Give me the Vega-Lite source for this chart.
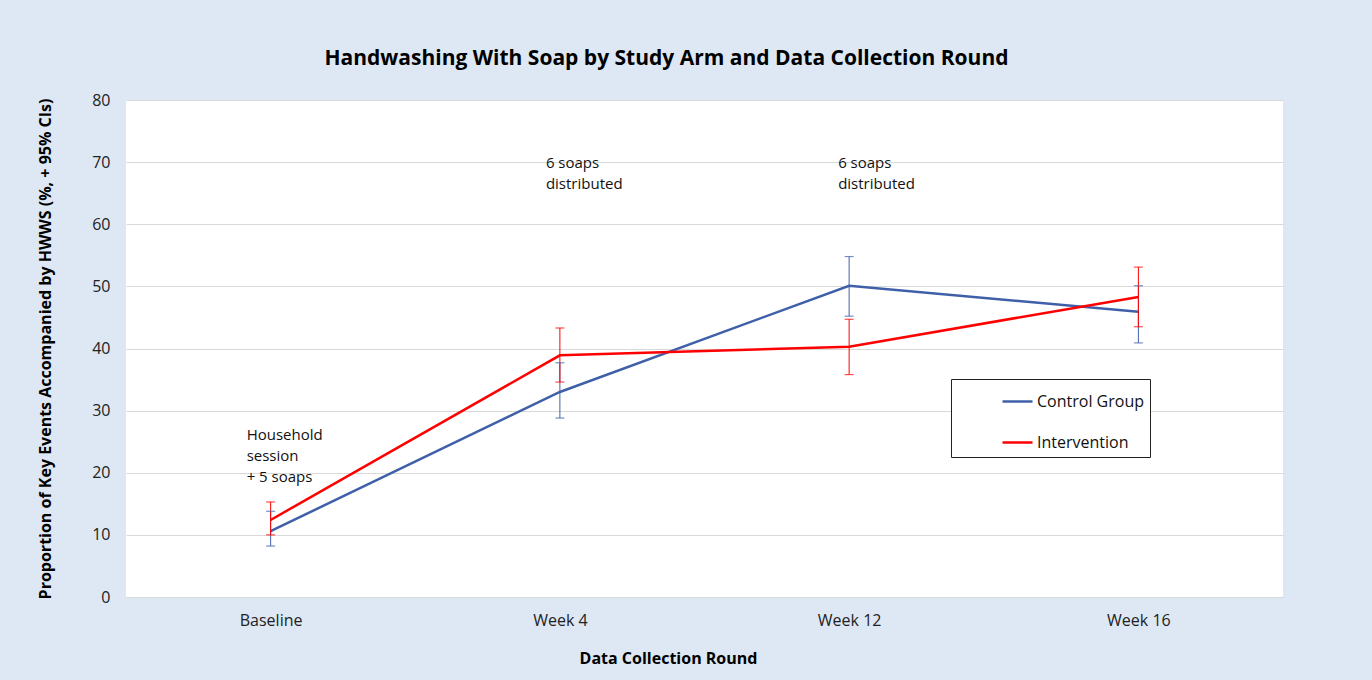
{
  "$schema": "https://vega.github.io/schema/vega-lite/v6.json",
  "width": 1157,
  "height": 497,
  "autosize": "none",
  "padding": {"left": 126, "top": 100, "right": 89, "bottom": 83},
  "background": "#dde8f4",
  "config": {
    "view": {"fill": "white", "stroke": null},
    "font": "Open Sans",
    "axis": {"labelFont": "Open Sans", "titleFont": "Open Sans", "labelColor": "#222222", "titleColor": "#000000"}
  },
  "title": {
    "text": "Handwashing With Soap by Study Arm and Data Collection Round",
    "font": "Open Sans",
    "fontSize": 21,
    "fontWeight": "bold",
    "color": "#000000",
    "anchor": "middle",
    "dx": -38,
    "offset": 23
  },
  "datasets": {
    "arms": [
      {"round": "Baseline", "group": "Control Group", "value": 10.6, "lo": 8.2, "hi": 13.8},
      {"round": "Week 4", "group": "Control Group", "value": 33.0, "lo": 28.8, "hi": 37.7},
      {"round": "Week 12", "group": "Control Group", "value": 50.1, "lo": 45.2, "hi": 54.8},
      {"round": "Week 16", "group": "Control Group", "value": 45.9, "lo": 40.9, "hi": 50.1},
      {"round": "Baseline", "group": "Intervention", "value": 12.4, "lo": 10.0, "hi": 15.3},
      {"round": "Week 4", "group": "Intervention", "value": 38.9, "lo": 34.6, "hi": 43.3},
      {"round": "Week 12", "group": "Intervention", "value": 40.3, "lo": 35.8, "hi": 44.7},
      {"round": "Week 16", "group": "Intervention", "value": 48.3, "lo": 43.5, "hi": 53.1}
    ],
    "notes": [
      {"round": "Baseline", "note": "Household\nsession\n+ 5 soaps", "y": 26.1},
      {"round": "Week 4", "note": "6 soaps\ndistributed", "y": 69.9},
      {"round": "Week 12", "note": "6 soaps\ndistributed", "y": 69.9}
    ]
  },
  "encoding": {
    "x": {
      "field": "round",
      "type": "ordinal",
      "sort": ["Baseline", "Week 4", "Week 12", "Week 16"],
      "scale": {"type": "point", "padding": 0.5},
      "axis": {
        "title": "Data Collection Round",
        "titleFontSize": 16,
        "titleFontWeight": "bold",
        "titlePadding": 22,
        "titleX": 542,
        "labelFontSize": 16,
        "labelAngle": 0,
        "labelPadding": 15,
        "ticks": false,
        "domain": false,
        "grid": false
      }
    }
  },
  "layer": [
    {
      "data": {"name": "arms"},
      "mark": {"type": "line", "strokeWidth": 2.5},
      "encoding": {
        "y": {
          "field": "value",
          "type": "quantitative",
          "scale": {"domain": [0, 80]},
          "axis": {
            "title": "Proportion of Key Events Accompanied by HWWS (%, + 95% CIs)",
            "titleFontSize": 16,
            "titleFontWeight": "bold",
            "titlePadding": 38,
            "labelFontSize": 16,
            "labelPadding": 16,
            "tickCount": 8,
            "ticks": false,
            "domain": false,
            "gridColor": "#d9d9d9",
            "gridWidth": 1
          }
        },
        "color": {
          "field": "group",
          "type": "nominal",
          "scale": {"domain": ["Control Group", "Intervention"], "range": ["#3f60a9", "#ff0000"]},
          "legend": {
            "title": null,
            "orient": "none",
            "legendX": 825,
            "legendY": 279,
            "padding": 6,
            "rowPadding": 16,
            "fillColor": "white",
            "strokeColor": "#222222",
            "symbolType": "stroke",
            "symbolSize": 900,
            "symbolStrokeWidth": 2.5,
            "symbolOffset": 44,
            "labelFontSize": 16,
            "labelFont": "Open Sans",
            "labelColor": "#111111",
            "labelOffset": 3
          }
        }
      }
    },
    {
      "data": {"name": "arms"},
      "mark": {"type": "rule", "strokeWidth": 1},
      "encoding": {
        "y": {"field": "lo", "type": "quantitative"},
        "y2": {"field": "hi"},
        "color": {"field": "group", "type": "nominal", "legend": null}
      }
    },
    {
      "data": {"name": "arms"},
      "mark": {"type": "tick", "size": 9, "thickness": 1.2},
      "encoding": {
        "y": {"field": "lo", "type": "quantitative"},
        "color": {"field": "group", "type": "nominal", "legend": null}
      }
    },
    {
      "data": {"name": "arms"},
      "mark": {"type": "tick", "size": 9, "thickness": 1.2},
      "encoding": {
        "y": {"field": "hi", "type": "quantitative"},
        "color": {"field": "group", "type": "nominal", "legend": null}
      }
    },
    {
      "data": {"name": "notes"},
      "transform": [{"filter": "datum.round === 'Baseline'"}],
      "mark": {"type": "text", "align": "left", "baseline": "middle", "fontSize": 15, "lineHeight": 21, "dx": -24, "color": "#111111", "lineBreak": "\n"},
      "encoding": {
        "y": {"field": "y", "type": "quantitative"},
        "text": {"field": "note"}
      }
    },
    {
      "data": {"name": "notes"},
      "transform": [{"filter": "datum.round === 'Week 4'"}],
      "mark": {"type": "text", "align": "left", "baseline": "middle", "fontSize": 15, "lineHeight": 21, "dx": -14, "color": "#111111", "lineBreak": "\n"},
      "encoding": {
        "y": {"field": "y", "type": "quantitative"},
        "text": {"field": "note"}
      }
    },
    {
      "data": {"name": "notes"},
      "transform": [{"filter": "datum.round === 'Week 12'"}],
      "mark": {"type": "text", "align": "left", "baseline": "middle", "fontSize": 15, "lineHeight": 21, "dx": -11, "color": "#111111", "lineBreak": "\n"},
      "encoding": {
        "y": {"field": "y", "type": "quantitative"},
        "text": {"field": "note"}
      }
    }
  ]
}
